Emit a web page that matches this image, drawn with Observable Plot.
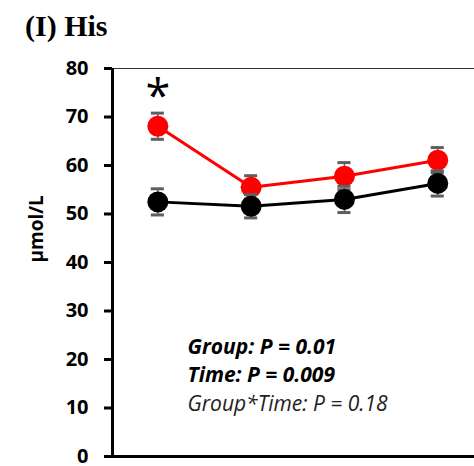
<!DOCTYPE html>
<html>
<head>
<meta charset="utf-8">
<script src="https://cdn.jsdelivr.net/npm/d3@7"></script>
<script src="https://cdn.jsdelivr.net/npm/@observablehq/plot@0.6"></script>
<style>
  html, body { margin: 0; padding: 0; background: #fff; }
  #wrap { position: relative; width: 474px; height: 466px; }
  #title { position: absolute; left: 25px; top: 9px; font-family: "Liberation Serif", serif; font-weight: bold; font-size: 30px; color: #000; white-space: nowrap; }
  #chart { position: absolute; left: 0; top: 0; }
  g[aria-label="y-axis tick label"] text { font-weight: bold; }
</style>
</head>
<body>
<div id="wrap">
  <div id="chart"></div>
  <div id="title">(I) His</div>
</div>
<script>
// Data
const timepoints = [1, 2, 3, 4];
const redMeans  = [68.1, 55.5, 57.8, 61.1];
const redErrs   = [2.7, 2.4, 2.8, 2.6];
const blackMeans = [52.5, 51.6, 53.0, 56.3];
const blackErrs  = [2.7, 2.4, 2.7, 2.6];
const significant = [true, false, false, false];
const yTicks = [0, 10, 20, 30, 40, 50, 60, 70, 80];
const yLabel = "µmol/L";
const statLines = ["Group: P = 0.01", "Time: P = 0.009", "Group*Time: P = 0.18"];

const red = timepoints.map((t, i) => ({x: t, v: redMeans[i], e: redErrs[i]}));
const black = timepoints.map((t, i) => ({x: t, v: blackMeans[i], e: blackErrs[i]}));
const stars = timepoints.filter((t, i) => significant[i]).map(t => ({x: t}));

const capHalf = 0.07;
const errColor = "#5f5f5f";
const font = "'Open Sans', sans-serif";

function series(data, color) {
  return [
    Plot.line(data, {x: "x", y: "v", stroke: color, strokeWidth: 3}),
    Plot.ruleX(data, {x: "x", y1: d => d.v - d.e, y2: d => d.v + d.e, stroke: errColor, strokeWidth: 1.5}),
    Plot.ruleY(data, {x1: d => d.x - capHalf, x2: d => d.x + capHalf, y: d => d.v + d.e, stroke: errColor, strokeWidth: 3}),
    Plot.ruleY(data, {x1: d => d.x - capHalf, x2: d => d.x + capHalf, y: d => d.v - d.e, stroke: errColor, strokeWidth: 3}),
    Plot.dot(data, {x: "x", y: "v", r: 10.5, fill: color, stroke: "none"})
  ];
}

const chart = Plot.plot({
  width: 474,
  height: 466,
  marginTop: 68,
  marginBottom: 10,
  marginLeft: 112,
  marginRight: 0,
  style: {fontFamily: font, fontSize: "20px", color: "#000", background: "#fff", overflow: "visible"},
  x: {domain: [0.514, 4.394], axis: null},
  y: {domain: [0, 80]},
  marks: [
    Plot.axisY({ticks: yTicks, tickSize: 8, tickPadding: 16, strokeWidth: 3, label: null, fontSize: 20, fill: "#000"}),
    Plot.ruleY([80], {stroke: "#333", strokeWidth: 1}),
    Plot.ruleX([0.514], {y1: 0, y2: 80, stroke: "#000", strokeWidth: 3}),
    Plot.text([yLabel], {frameAnchor: "left", dx: -76, rotate: -90, text: d => d, fontSize: 19, fontWeight: "bold", fill: "#000"}),
    ...series(red, "#ff0000"),
    ...series(black, "#000000"),
    Plot.ruleY([0], {stroke: "#000", strokeWidth: 3}),
    Plot.text(stars, {x: "x", y: () => 80, text: () => "*", dy: 29, fontSize: 45, fontWeight: "normal", fill: "#000"}),
    Plot.text([statLines[0]], {frameAnchor: "bottom-left", dx: 75, dy: -103, text: d => d, fontSize: 21, fontWeight: "bold", fontStyle: "italic", textAnchor: "start", fill: "#000"}),
    Plot.text([statLines[1]], {frameAnchor: "bottom-left", dx: 75, dy: -75, text: d => d, fontSize: 21, fontWeight: "bold", fontStyle: "italic", textAnchor: "start", fill: "#000"}),
    Plot.text([statLines[2]], {frameAnchor: "bottom-left", dx: 75, dy: -46, text: d => d, fontSize: 21, fontStyle: "italic", textAnchor: "start", fill: "#222"})
  ]
});
document.getElementById("chart").appendChild(chart);
</script>
</body>
</html>
